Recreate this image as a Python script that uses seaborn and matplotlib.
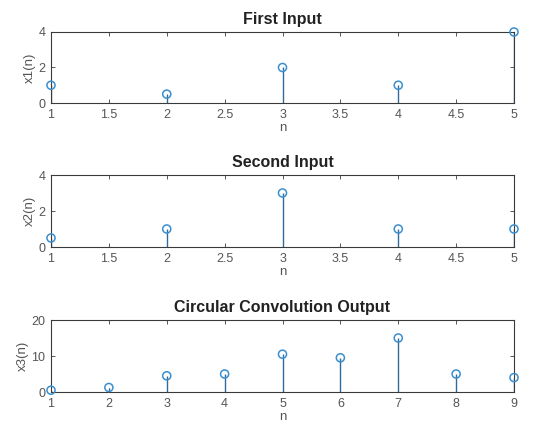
import numpy as np
import pandas as pd
import matplotlib
matplotlib.use("Agg")
import matplotlib.pyplot as plt
import seaborn as sns

# Input sequences and their convolution result
n1 = [1, 2, 3, 4, 5]
x1 = [1, 0.5, 2, 1, 4]
n2 = [1, 2, 3, 4, 5]
x2 = [0.5, 1, 3, 1, 1]
n3 = [1, 2, 3, 4, 5, 6, 7, 8, 9]
x3 = [0.5, 1.25, 4.5, 5, 10.5, 9.5, 15, 5, 4]

titles = ["First Input", "Second Input", "Circular Convolution Output"]
ylabels = ["x1(n)", "x2(n)", "x3(n)"]
xticks = [np.arange(1, 5.01, 0.5), np.arange(1, 5.01, 0.5), np.arange(1, 10, 1)]
xticklabels = [["1", "1.5", "2", "2.5", "3", "3.5", "4", "4.5", "5"],
               ["1", "1.5", "2", "2.5", "3", "3.5", "4", "4.5", "5"],
               ["1", "2", "3", "4", "5", "6", "7", "8", "9"]]
yticks = [[0, 2, 4], [0, 2, 4], [0, 10, 20]]
ylims = [(0, 4), (0, 4), (0, 20)]

sns.set_theme(style="white")
plt.rcParams["font.family"] = ["Liberation Sans", "DejaVu Sans"]

stem_color = "#2f6a99"
marker_color = "#3a8fd0"
text_gray = "#555555"
axis_gray = "#3a3a3a"

fig = plt.figure(figsize=(5.59, 4.36), dpi=100)
W, H = 559, 436
boxes = [(51, 32, 514, 103), (51, 175, 514, 247), (51, 320, 514, 392)]

series = [(n1, x1), (n2, x2), (n3, x3)]
for i, ((n, x), (l, t, r, b)) in enumerate(zip(series, boxes)):
    ax = fig.add_axes([l / W, 1 - b / H, (r - l) / W, (b - t) / H])
    df = pd.DataFrame({"n": n, "x": x})
    ax.vlines(df["n"], 0, df["x"], color=stem_color, linewidth=1.0, zorder=2)
    sns.scatterplot(data=df, x="n", y="x", ax=ax, marker="o", s=34,
                    facecolor="none", edgecolor=marker_color, linewidth=1.1,
                    zorder=3, clip_on=False)
    ax.set_xlim(n[0], n[-1])
    ax.set_ylim(*ylims[i])
    ax.set_xticks(xticks[i])
    ax.set_xticklabels(xticklabels[i])
    ax.set_yticks(yticks[i])
    ax.tick_params(direction="in", length=3, width=0.6, top=True, right=True,
                   bottom=True, left=True, labelsize=9, colors=axis_gray,
                   labelcolor=text_gray, pad=4)
    for sp in ax.spines.values():
        sp.set_visible(True)
        sp.set_color(axis_gray)
        sp.set_linewidth(0.8)
    ax.set_xlabel("n", fontsize=9.5, color=text_gray, labelpad=1)
    ax.set_ylabel(ylabels[i], fontsize=9.5, color=text_gray, labelpad=2)
    ax.set_title(titles[i], fontsize=11.5, fontweight="bold", color="#222222", pad=6)

fig.savefig("out.png", dpi=100, facecolor="white")
